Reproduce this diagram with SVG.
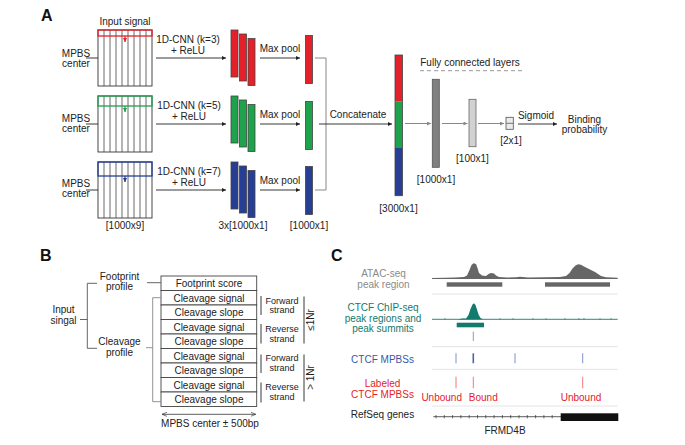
<svg xmlns="http://www.w3.org/2000/svg" width="685" height="445" viewBox="0 0 685 445">
<style>
text{font-family:"Liberation Sans",Arial,sans-serif;font-size:10px;fill:#222}
.lbl{font-size:16px;font-weight:bold;fill:#111}
.c{text-anchor:middle}
.s{font-size:9px}
.grid{fill:#fff;stroke:#333;stroke-width:0.9}
.gl{stroke:#444;stroke-width:0.8;fill:none}
.ln{stroke:#222;stroke-width:0.9;fill:none}
.gr{stroke:#888;stroke-width:1;fill:none}
.bar{stroke:#444;stroke-width:0.8}
.red{fill:#e4212a}.green{fill:#1ea24c}.blue{fill:#263f95}
.row{fill:#fff;stroke:#444;stroke-width:0.9}
.sep{stroke:#e4e4e4;stroke-width:1}
</style>
<defs>
<marker id="ab" viewBox="0 0 6 6" refX="6" refY="3" markerWidth="5" markerHeight="4" orient="auto" markerUnits="userSpaceOnUse"><path d="M0,0L6,3L0,6Z" fill="#222"/></marker>
<marker id="ag" viewBox="0 0 6 6" refX="6" refY="3" markerWidth="5" markerHeight="4" orient="auto" markerUnits="userSpaceOnUse"><path d="M0,0L6,3L0,6Z" fill="#888"/></marker>
<marker id="ar" viewBox="0 0 6 6" refX="6" refY="3" markerWidth="5" markerHeight="4" orient="auto" markerUnits="userSpaceOnUse"><path d="M0,0L6,3L0,6Z" fill="#e4212a"/></marker>
<marker id="agr" viewBox="0 0 6 6" refX="6" refY="3" markerWidth="5" markerHeight="4" orient="auto" markerUnits="userSpaceOnUse"><path d="M0,0L6,3L0,6Z" fill="#1ea24c"/></marker>
<marker id="abl" viewBox="0 0 6 6" refX="6" refY="3" markerWidth="5" markerHeight="4" orient="auto" markerUnits="userSpaceOnUse"><path d="M0,0L6,3L0,6Z" fill="#263f95"/></marker>
<marker id="oa" viewBox="0 0 6 6" refX="6" refY="3" markerWidth="5" markerHeight="5" orient="auto-start-reverse" markerUnits="userSpaceOnUse"><path d="M0,0.5L6,3L0,5.5" fill="none" stroke="#333" stroke-width="0.8"/></marker>
</defs>

<!-- Panel A -->
<text class="lbl" x="41" y="21">A</text>
<text class="c" x="125" y="25">Input signal</text>

<g id="grid1">
<rect class="grid" x="98" y="30" width="54" height="56"/>
<path class="gl" d="M104,30v56M110,30v56M116,30v56M122,30v56M128,30v56M134,30v56M140,30v56M146,30v56"/>
<rect x="98" y="30" width="54" height="6" fill="none" stroke="#e4212a" stroke-width="1.3"/>
<path d="M125,36V42" stroke="#e4212a" stroke-width="1.2" marker-end="url(#ar)"/>
<text class="c" x="76" y="56.5">MPBS</text><text class="c" x="76" y="66.5">center</text>
<path class="ln" d="M86,58H98"/>
</g>
<g id="grid2">
<rect class="grid" x="98" y="96" width="54" height="56"/>
<path class="gl" d="M104,96v56M110,96v56M116,96v56M122,96v56M128,96v56M134,96v56M140,96v56M146,96v56"/>
<rect x="98" y="96" width="54" height="10" fill="none" stroke="#1ea24c" stroke-width="1.3"/>
<path d="M125,106V112" stroke="#1ea24c" stroke-width="1.2" marker-end="url(#agr)"/>
<text class="c" x="76" y="122">MPBS</text><text class="c" x="76" y="132">center</text>
<path class="ln" d="M86,124H98"/>
</g>
<g id="grid3">
<rect class="grid" x="98" y="162" width="54" height="56"/>
<path class="gl" d="M104,162v56M110,162v56M116,162v56M122,162v56M128,162v56M134,162v56M140,162v56M146,162v56"/>
<rect x="98" y="162" width="54" height="14" fill="none" stroke="#263f95" stroke-width="1.3"/>
<path d="M125,176V182" stroke="#263f95" stroke-width="1.2" marker-end="url(#abl)"/>
<text class="c" x="76" y="187">MPBS</text><text class="c" x="76" y="197">center</text>
<path class="ln" d="M86,190H98"/>
</g>
<text class="c" x="125" y="229">[1000x9]</text>

<g id="conv1">
<rect class="bar red" x="231" y="30" width="7" height="47"/>
<rect class="bar red" x="239.5" y="34" width="7" height="47"/>
<rect class="bar red" x="248" y="38.5" width="7" height="47"/>
</g>
<g id="conv2">
<rect class="bar green" x="231" y="96" width="7" height="47"/>
<rect class="bar green" x="239.5" y="100" width="7" height="47"/>
<rect class="bar green" x="248" y="104.5" width="7" height="47"/>
</g>
<g id="conv3">
<rect class="bar blue" x="231" y="162" width="7" height="47"/>
<rect class="bar blue" x="239.5" y="166" width="7" height="47"/>
<rect class="bar blue" x="248" y="170.5" width="7" height="47"/>
</g>
<text class="c" x="243" y="229">3x[1000x1]</text>

<g id="pool1"><rect class="bar red" x="305.5" y="35.5" width="7" height="48"/></g>
<g id="pool2"><rect class="bar green" x="305.5" y="101.5" width="7" height="48"/></g>
<g id="pool3"><rect class="bar blue" x="305.5" y="166.5" width="7" height="48"/></g>
<text class="c" x="309" y="229">[1000x1]</text>

<g id="concat">
<rect class="red" x="395" y="55" width="7.5" height="46.7"/>
<rect class="green" x="395" y="101.7" width="7.5" height="46.3"/>
<rect class="blue" x="395" y="148" width="7.5" height="47.7"/>
<rect x="395" y="55" width="7.5" height="140.7" fill="none" stroke="#444" stroke-width="0.8"/>
<text class="c" x="398.5" y="212">[3000x1]</text>
</g>

<g id="fc1">
<rect x="432.3" y="79.3" width="7" height="88" fill="#808080" stroke="#555" stroke-width="0.8"/>
<text class="c" x="436" y="183">[1000x1]</text>
</g>
<g id="fc2">
<rect x="469" y="99.3" width="7" height="47.4" fill="#d2d2d2" stroke="#666" stroke-width="0.8"/>
<text class="c" x="472.5" y="162">[100x1]</text>
</g>
<g id="out">
<rect x="506" y="117.3" width="7.3" height="12" fill="#ececec" stroke="#555" stroke-width="0.8"/>
<path d="M506,123.3H513.3" stroke="#555" stroke-width="0.8"/>
<text class="c" x="511" y="144">[2x1]</text>
</g>
<g id="binding">
<text class="c" x="584.5" y="122.5">Binding</text>
<text class="c" x="584.5" y="133">probability</text>
</g>
<text class="c" x="470" y="66">Fully connected layers</text>
<path d="M420,70.7H523" stroke="#999" stroke-width="1" stroke-dasharray="4,3"/>

<g id="connectors">
<path class="ln" d="M156,58H226" marker-end="url(#ab)"/>
<path class="ln" d="M156,124H226" marker-end="url(#ab)"/>
<path class="ln" d="M156,190H226" marker-end="url(#ab)"/>
<text class="c" x="188" y="43">1D-CNN (k=3)</text><text class="c" x="188" y="53.5">+ ReLU</text>
<text class="c" x="189" y="109">1D-CNN (k=5)</text><text class="c" x="189" y="119.5">+ ReLU</text>
<text class="c" x="189" y="175">1D-CNN (k=7)</text><text class="c" x="189" y="185.5">+ ReLU</text>
<path class="ln" d="M260,58H300" marker-end="url(#ab)"/>
<path class="ln" d="M260,124H300" marker-end="url(#ab)"/>
<path class="ln" d="M260,190H300" marker-end="url(#ab)"/>
<text class="c" x="280" y="52">Max pool</text>
<text class="c" x="280" y="118">Max pool</text>
<text class="c" x="280" y="184">Max pool</text>
<path class="gr" d="M315,58H326V190H315"/>
<path class="ln" d="M319,124H392" marker-end="url(#ab)"/>
<text class="c" x="358" y="117.5">Concatenate</text>
<path class="gr" d="M405,123.5H431" marker-end="url(#ag)"/>
<path class="gr" d="M442,123.5H467.5" marker-end="url(#ag)"/>
<path class="gr" d="M478,123.5H504" marker-end="url(#ag)"/>
<path class="ln" d="M518,124H557" marker-end="url(#ab)"/>
<text class="c" x="536" y="119">Sigmoid</text>
</g>

<!-- Panel B -->
<text class="lbl" x="40" y="261">B</text>
<g id="input-signal">
<text class="c" x="63.5" y="313">Input</text><text class="c" x="63.5" y="323.5">singal</text>
</g>
<g id="footprint-profile">
<text class="c" x="119.5" y="280">Footprint</text><text class="c" x="119.5" y="290">profile</text>
</g>
<g id="cleavage-profile">
<text class="c" x="119.5" y="345">Cleavage</text><text class="c" x="119.5" y="355.5">profile</text>
</g>
<g id="table">
<rect class="row" x="161" y="276" width="95.7" height="14.5"/>
<rect class="row" x="161" y="290.5" width="95.7" height="14.5"/>
<rect class="row" x="161" y="305" width="95.7" height="14.5"/>
<rect class="row" x="161" y="319.5" width="95.7" height="14.5"/>
<rect class="row" x="161" y="334" width="95.7" height="14.5"/>
<rect class="row" x="161" y="348.5" width="95.7" height="14.5"/>
<rect class="row" x="161" y="363" width="95.7" height="14.5"/>
<rect class="row" x="161" y="377.5" width="95.7" height="14.5"/>
<rect class="row" x="161" y="392" width="95.7" height="14.5"/>
<text class="c" x="209" y="287">Footprint score</text>
<text class="c" x="209" y="301.5">Cleavage signal</text>
<text class="c" x="209" y="316">Cleavage slope</text>
<text class="c" x="209" y="330.5">Cleavage signal</text>
<text class="c" x="209" y="345">Cleavage slope</text>
<text class="c" x="209" y="359.5">Cleavage signal</text>
<text class="c" x="209" y="374">Cleavage slope</text>
<text class="c" x="209" y="388.5">Cleavage signal</text>
<text class="c" x="209" y="403">Cleavage slope</text>
</g>
<g id="strands">
<path class="ln" d="M261,296V315M261,324V343.5M261,354.5V373M261,382.5V402.5"/>
<text class="c s" x="282" y="303.5">Forward</text><text class="c s" x="282" y="313">strand</text>
<text class="c s" x="282" y="332">Reverse</text><text class="c s" x="282" y="341.5">strand</text>
<text class="c s" x="282" y="361">Forward</text><text class="c s" x="282" y="370.5">strand</text>
<text class="c s" x="282" y="390">Reverse</text><text class="c s" x="282" y="399.5">strand</text>
<path class="ln" d="M304,296.5V343.5M304,354.5V401.5"/>
<text class="c" transform="translate(313.5,320) rotate(-90)">≤1Nr</text>
<text class="c" transform="translate(313.5,377.5) rotate(-90)">&gt; 1Nr</text>
</g>
<g id="b-connectors">
<path d="M80,319.5H87.3M87.3,283.3V348.3M87.3,283.3H97M87.3,348.3H97" stroke="#555" stroke-width="0.9" fill="none"/>
<path d="M147,282.7H161" stroke="#555" stroke-width="0.9"/>
<path d="M146,347.7H152.7M152.7,297.7V401.7M152.7,297.7H161M152.7,401.7H161" stroke="#888" stroke-width="0.9" fill="none"/>
<path d="M162,414.3H255.7" stroke="#333" stroke-width="0.8" marker-start="url(#oa)" marker-end="url(#oa)"/>
</g>
<text class="c" x="210" y="426.5">MPBS center ± 500bp</text>

<!-- Panel C -->
<text class="lbl" x="331" y="261">C</text>
<path class="sep" d="M432,294H617.7M432,346.7H617.7M432,369.3H617.7M432,406H617.7"/>
<g id="atac">
<text class="c" x="383.5" y="277.3" style="fill:#8a8a8a">ATAC-seq</text>
<text class="c" x="383.5" y="288.3" style="fill:#8a8a8a">peak region</text>
<path d="M432,278L445,277.8L455,277.5L464,277L467,275.5L469.5,270L471.5,265L473.5,263.3L476,264L477.5,268L479,273L482,275.5L486,276L488.5,274L491,273L494,273.5L496,275.5L499,277L507,277.5L516,277.2L520,276.8L528,277.4L545,277.3L560,277L566,276L569.5,273L572.5,268.5L575.5,265.5L578,264.3L581,264.8L584,266.5L588,268.5L592,270.5L595,272L598,274L601,276L606,277.3L617.7,277.8L617.7,279L432,279Z" fill="#666"/>
<rect x="446.7" y="282.3" width="55.6" height="4.4" fill="#666"/>
<rect x="545" y="282.3" width="65" height="4.4" fill="#666"/>
</g>
<g id="chip">
<text class="c" x="383" y="311" style="fill:#137a6e">CTCF ChIP-seq</text>
<text class="c" x="383" y="321.7" style="fill:#137a6e">peak regions and</text>
<text class="c" x="383" y="332.3" style="fill:#137a6e">peak summits</text>
<path d="M432,319.3H617.7" stroke="#137a6e" stroke-width="0.9"/>
<path d="M458,319.5L462,318.6L466,318.4L468.5,315L470.5,309L472.5,304.5L474,303.3L475.5,305L477,309.5L478.5,314.5L480.5,318L483,319.3Z" fill="#137a6e"/>
<path d="M445,319.3v-0.9M500,319.3v-0.9M513,319.3v-0.9M533,319.3v-0.9M546,319.3v-0.9M565,319.3v-0.9M579,319.3v-1M584,319.3v-1M600,319.3v-0.9M611,319.3v-0.9" stroke="#137a6e" stroke-width="1"/>
<rect x="456.7" y="322.7" width="27.3" height="4.6" fill="#137a6e"/>
<path d="M473.3,331.7V341" stroke="#4a9a90" stroke-width="0.8"/>
</g>
<g id="mpbs">
<text class="c" x="382.5" y="363.3" style="fill:#3a57a6">CTCF MPBSs</text>
<path d="M456,353.3V363.3M515,353.3V363.3M582.7,353.3V363.3" stroke="#6f86c0" stroke-width="0.9"/>
<path d="M473.3,353.3V363.3" stroke="#4a63aa" stroke-width="1.6"/>
</g>
<g id="labeled">
<text class="c" x="382.5" y="387.3" style="fill:#e4212a">Labeled</text>
<text class="c" x="382.5" y="397.7" style="fill:#e4212a">CTCF MPBSs</text>
<path d="M456,376.7V388.3M473.3,376.7V388.3M582.7,376.7V388.3" stroke="#ee6a6f" stroke-width="0.9"/>
<text class="c" x="441.7" y="400.7" style="fill:#e4212a">Unbound</text>
<text class="c" x="483.3" y="400.7" style="fill:#e4212a">Bound</text>
<text class="c" x="581" y="400.7" style="fill:#e4212a">Unbound</text>
</g>
<g id="refseq">
<text class="c" x="382.5" y="418.3">RefSeq genes</text>
<path d="M433.3,416.7H561" stroke="#333" stroke-width="0.8"/>
<path d="M436,415v3.4M444.3,415v3.4M452.6,415v3.4M460.9,415v3.4M469.2,415v3.4M477.5,415v3.4M485.8,415v3.4M494.1,415v3.4M502.4,415v3.4M510.7,415v3.4M519,415v3.4M527.3,415v3.4M535.6,415v3.4M543.9,415v3.4M552.2,415v3.4" stroke="#333" stroke-width="0.7"/>
<rect x="560.7" y="413.3" width="57.6" height="7.7" fill="#111"/>
<text class="c" x="505" y="434.3">FRMD4B</text>
</g>
</svg>
